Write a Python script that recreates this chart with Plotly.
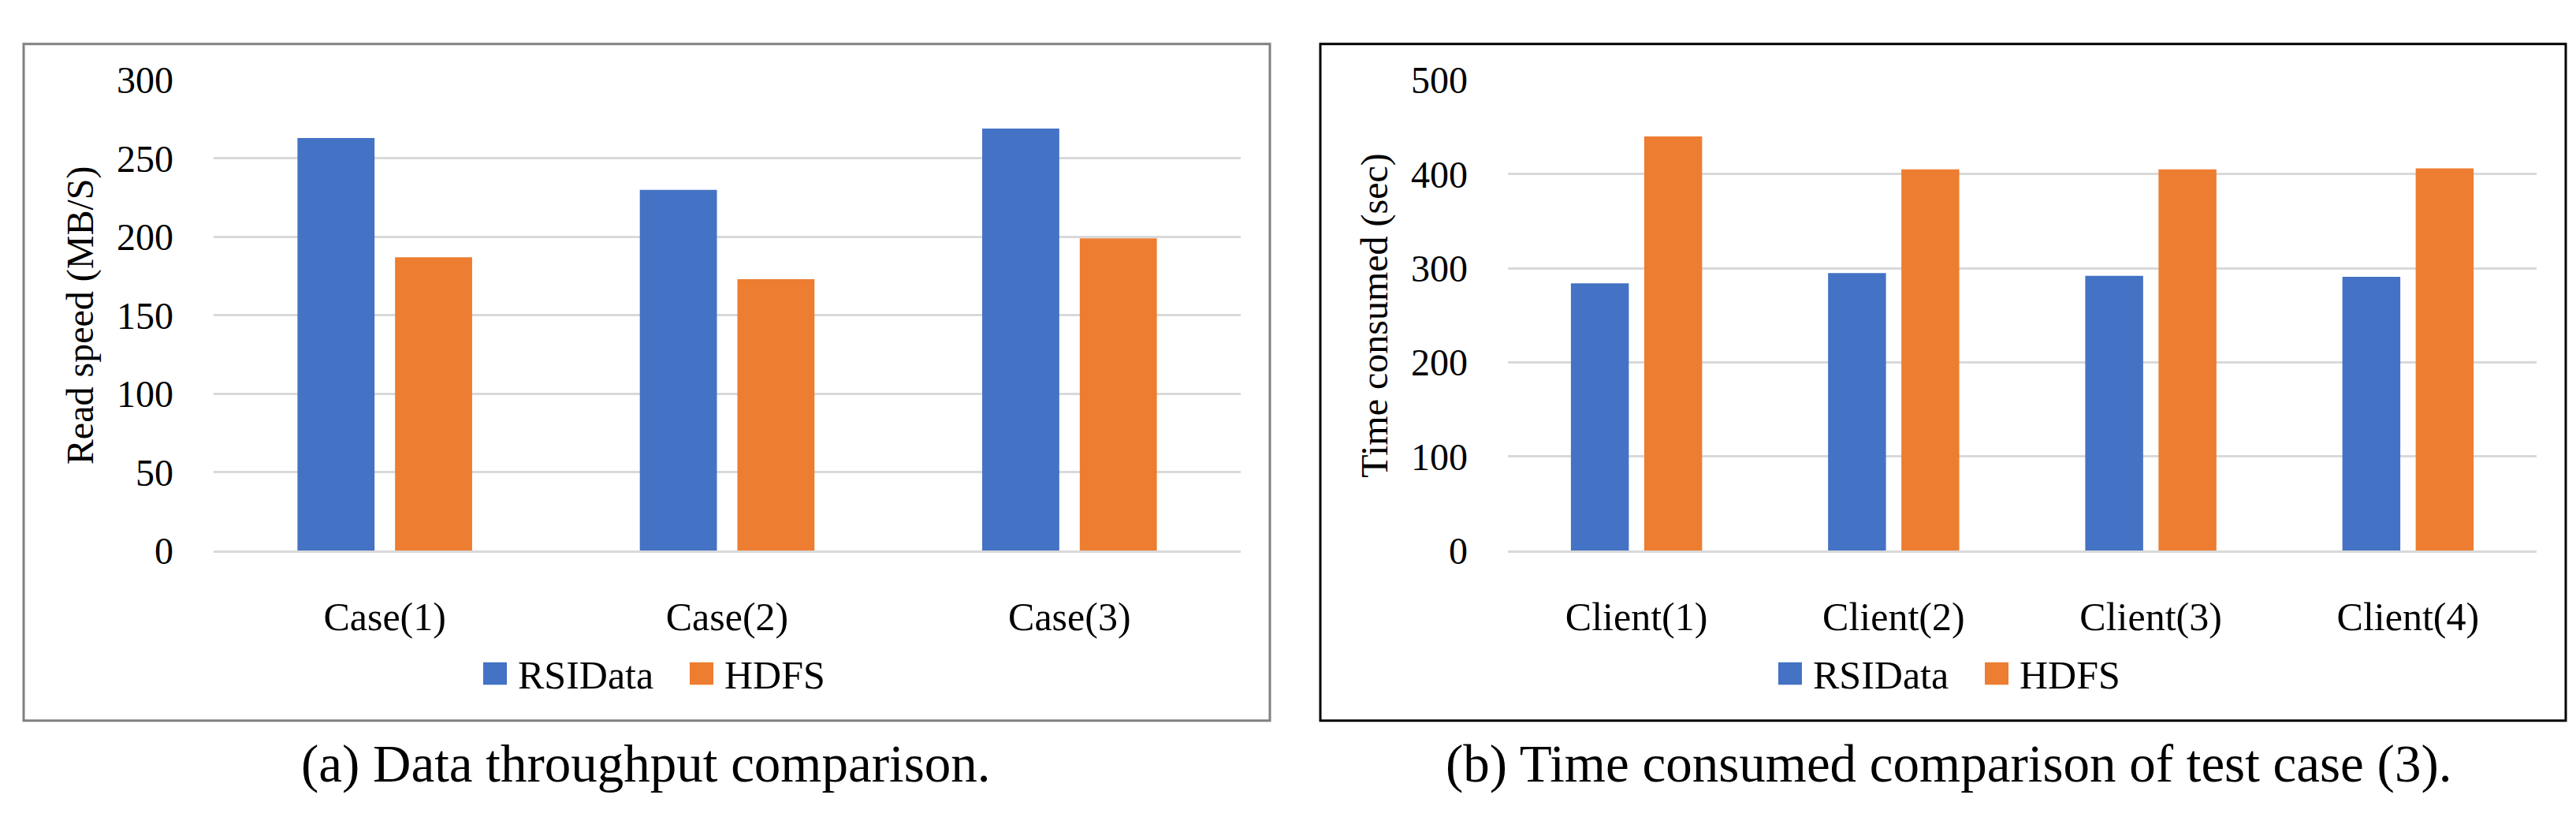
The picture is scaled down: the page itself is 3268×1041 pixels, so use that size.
import plotly.graph_objects as go

W, H = 3268, 1041

# ---- data ----
cases = ["Case(1)", "Case(2)", "Case(3)"]
speed_rsidata = [263, 230, 269]
speed_hdfs = [187, 173, 199]

clients = ["Client(1)", "Client(2)", "Client(3)", "Client(4)"]
time_rsidata = [284, 295, 292, 291]
time_hdfs = [440, 405, 405, 406]

series_names = ["RSIData", "HDFS"]
colors = ["#4472C4", "#ED7D31"]
speed_ticks = [0, 50, 100, 150, 200, 250, 300]
time_ticks = [0, 100, 200, 300, 400, 500]

caption_a = "(a) Data throughput comparison."
caption_b = "(b) Time consumed comparison of test case (3)."


def px(x):
    return x / W


def py(y):
    return 1 - y / H


FONT = "Liberation Serif"
GRID = "#D9D9D9"

fig = go.Figure()

# left chart bars
for name, vals, col in zip(series_names, [speed_rsidata, speed_hdfs], colors):
    fig.add_trace(go.Bar(x=cases, y=vals, name=name, marker=dict(color=col, line=dict(width=0)),
                         xaxis="x", yaxis="y", showlegend=False))
# right chart bars
for name, vals, col in zip(series_names, [time_rsidata, time_hdfs], colors):
    fig.add_trace(go.Bar(x=clients, y=vals, name=name, marker=dict(color=col, line=dict(width=0)),
                         xaxis="x2", yaxis="y2", showlegend=False))

y_dom = [py(700), py(71)]

axis_common = dict(showgrid=False, showline=True, linecolor=GRID, linewidth=3,
                   ticks="", tickfont=dict(family=FONT, size=50, color="#000000"),
                   ticklabelstandoff=38, fixedrange=True)
yaxis_common = dict(showgrid=True, gridcolor=GRID, gridwidth=3, showline=False, zeroline=False,
                    ticks="", tickfont=dict(family=FONT, size=48, color="#000000"),
                    ticklabelstandoff=50, fixedrange=True)

shapes = [
    dict(type="rect", xref="paper", yref="paper", x0=px(22), x1=px(1603), y0=py(927), y1=py(23),
         line=dict(color="#808080", width=3), fillcolor="rgba(0,0,0,0)", layer="below"),
    dict(type="rect", xref="paper", yref="paper", x0=px(1667), x1=px(3247), y0=py(927), y1=py(23),
         line=dict(color="#000000", width=3), fillcolor="rgba(0,0,0,0)", layer="below"),
]
annotations = [
    dict(text=caption_a, xref="paper", yref="paper", x=px(811), y=py(985), xanchor="center",
         yanchor="middle", showarrow=False, font=dict(family=FONT, size=67, color="#000000")),
    dict(text=caption_b, xref="paper", yref="paper", x=px(2464), y=py(985), xanchor="center",
         yanchor="middle", showarrow=False, font=dict(family=FONT, size=67, color="#000000")),
]

# legends (square swatch + label), one per chart, centred under each chart
legend_starts = [605, 2248]   # left edge of first swatch for each chart (px)
entry_step = 262              # distance between legend entries (px)
sw = 30                       # swatch size (px)
ly = 864                      # legend centre line (px)
for x_start in legend_starts:
    for i, (name, col) in enumerate(zip(series_names, colors)):
        x0 = x_start + i * entry_step
        shapes.append(dict(type="rect", xref="paper", yref="paper",
                           x0=px(x0), x1=px(x0 + sw), y0=py(ly + sw / 2), y1=py(ly - sw / 2),
                           line=dict(width=0), fillcolor=col))
        annotations.append(dict(text=name, xref="paper", yref="paper", x=px(x0 + sw + 12), y=py(ly + 2),
                                xanchor="left", yanchor="middle", showarrow=False,
                                font=dict(family=FONT, size=50, color="#000000")))

fig.update_layout(
    width=W, height=H, autosize=False,
    margin=dict(l=0, r=0, t=0, b=0),
    paper_bgcolor="white", plot_bgcolor="white",
    barmode="group", bargap=0.43, bargroupgap=0.21,
    showlegend=False,
    font=dict(family=FONT, color="#000000"),
    xaxis=dict(domain=[px(263), px(1566)], anchor="y", **axis_common),
    yaxis=dict(domain=y_dom, anchor="x", range=[0, 300], tickvals=speed_ticks,
               title=dict(text="Read speed (MB/S)", font=dict(family=FONT, size=48, color="#000000"), standoff=14),
               **yaxis_common),
    xaxis2=dict(domain=[px(1905), px(3210)], anchor="y2", **axis_common),
    yaxis2=dict(domain=y_dom, anchor="x2", range=[0, 500], tickvals=time_ticks,
                title=dict(text="Time consumed (sec)", font=dict(family=FONT, size=48, color="#000000"), standoff=14),
                **yaxis_common),
    shapes=shapes,
    annotations=annotations,
)

fig.write_html("out.html")
